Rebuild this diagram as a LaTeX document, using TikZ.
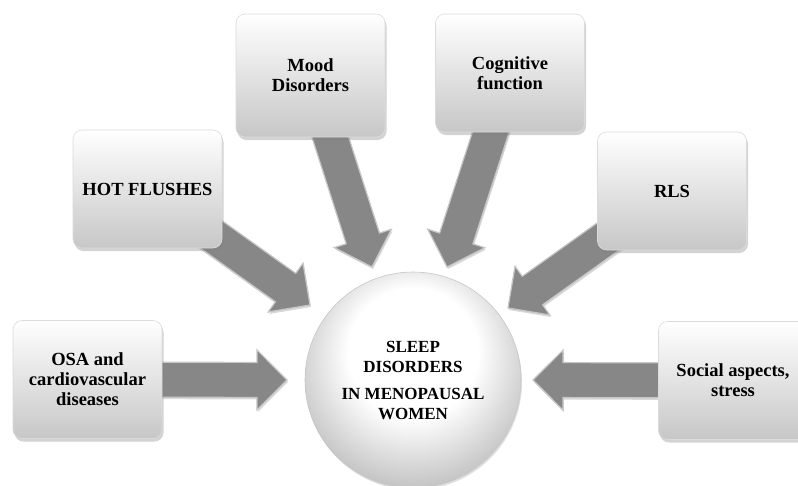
\documentclass[tikz,border=0pt]{standalone}
\usepackage{fontspec}
\setmainfont{Liberation Serif}
\usetikzlibrary{calc,shadows,backgrounds}
\pgfdeclareradialshading{sph}{\pgfpoint{0bp}{9bp}}{color(0bp)=(white); color(15bp)=(white); color(34bp)=(black!32); color(50bp)=(black!32)}
\tikzset{
  box/.style={rounded corners=9pt, minimum width=149pt, minimum height=118pt,
    top color=white, bottom color=black!22, draw=black!14, line width=0.6pt,
    align=center, inner sep=2pt, font=\fontsize{18.5}{20}\selectfont\bfseries,
    drop shadow={shadow xshift=1.5pt, shadow yshift=-3pt, opacity=0.35}},
  hub/.style={circle, minimum size=216pt, inner sep=0pt, shading=sph,
    draw=black!22, line width=0.6pt, align=center,
    font=\fontsize{17}{20}\selectfont\bfseries,
    drop shadow={shadow xshift=1pt, shadow yshift=-2pt, opacity=0.25}},
  fat/.style={fill=black!47, draw=black!22, line width=1.2pt, line join=miter,
    drop shadow={shadow xshift=1pt, shadow yshift=-2pt, opacity=0.3}}
}
\newcommand\fatarrow[2]{%
  \path ($(#2)!30pt!(#1)$) coordinate (hb);
  \draw[fat] ($(#1)!17.5pt!90:(#2)$) -- ($(hb)!17.5pt!90:(#2)$) -- ($(hb)!30pt!90:(#2)$)
    -- (#2) -- ($(hb)!30pt!-90:(#2)$) -- ($(hb)!17.5pt!-90:(#2)$)
    -- ($(#1)!17.5pt!-90:(#2)$) -- cycle;
}
\begin{document}
\begin{tikzpicture}[x=1pt,y=-1pt]
\useasboundingbox (0,0) rectangle (798,485);
\clip (0,0) rectangle (798,485);
\node[hub] (hub) at (413,380) {SLEEP\\DISORDERS\\[7pt]IN MENOPAUSAL\\WOMEN};
\node[box] (osa) at (87.5,379.5) {OSA and\\cardiovascular\\diseases};
\node[box] (soc) at (733,380.5) {Social aspects,\\stress};
\node[box] (hot) at (147.5,189) {HOT FLUSHES};
\node[box, minimum height=123pt] (mood) at (310.5,75.5) {Mood\\Disorders};
\node[box] (cog) at (510,73) {Cognitive\\function};
\node[box] (rls) at (672,191) {RLS};
\coordinate (tosa) at (287,380);
\coordinate (tsoc) at (533,380);
\coordinate (thot) at (310,305);
\coordinate (tmood) at (372,267);
\coordinate (tcog) at (447,267);
\coordinate (trls) at (508,308);
\begin{scope}[on background layer]
  \fatarrow{osa.center}{tosa}
  \fatarrow{soc.center}{tsoc}
  \fatarrow{hot.center}{thot}
  \fatarrow{mood.center}{tmood}
  \fatarrow{cog.center}{tcog}
  \fatarrow{rls.center}{trls}
\end{scope}
\end{tikzpicture}
\end{document}
